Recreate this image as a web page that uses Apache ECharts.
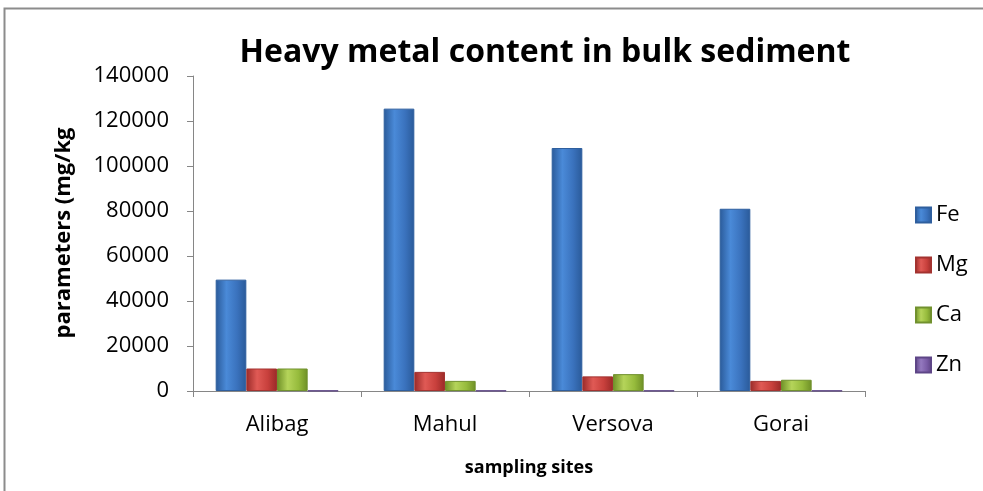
<!DOCTYPE html>
<html>
<head>
<meta charset="utf-8">
<script src="https://cdn.jsdelivr.net/npm/echarts@6/dist/echarts.min.js"></script>
<style>
  html, body { margin: 0; padding: 0; background: #fff; }
  #main { width: 983px; height: 491px; }
</style>
</head>
<body>
<div id="main"></div>
<script>
var sites = ['Alibag', 'Mahul', 'Versova', 'Gorai'];
var fe = [49500, 125500, 108000, 81000];
var mg = [10000, 8500, 6500, 4500];
var ca = [10000, 4500, 7500, 5000];
var zn = [150, 150, 150, 150];
var yTicks = [0, 20000, 40000, 60000, 80000, 100000, 120000, 140000];

var myChart = echarts.init(document.getElementById('main'));

// bar fill with a shaded look like the office 3D bars
function shade(light, mid, dark) {
  return new echarts.graphic.LinearGradient(0, 0, 1, 0, [
    { offset: 0, color: dark },
    { offset: 0.35, color: light },
    { offset: 0.7, color: mid },
    { offset: 1, color: dark }
  ]);
}

var fontName = 'Open Sans';

function barSeries(name, data, fill, border) {
  return {
    name: name,
    type: 'bar',
    data: data,
    barGap: 0,
    barCategoryGap: '27%',
    itemStyle: { color: fill, borderColor: border, borderWidth: 1 }
  };
}

var option = {
  animation: false,
  backgroundColor: '#fff',
  title: {
    text: 'Heavy metal content in bulk sediment',
    left: 540,
    textAlign: 'center',
    top: 32,
    textStyle: { fontFamily: fontName, fontSize: 32, fontWeight: 'bold', color: '#000' }
  },
  legend: {
    orient: 'vertical',
    left: 910,
    top: 199,
    itemWidth: 15,
    itemHeight: 15,
    itemGap: 28,
    icon: 'rect',
    textStyle: { fontFamily: fontName, fontSize: 22, color: '#000' },
    data: ['Fe', 'Mg', 'Ca', 'Zn']
  },
  grid: { left: 193, right: 118, top: 76, bottom: 100 },
  xAxis: {
    type: 'category',
    data: sites,
    name: 'sampling sites',
    nameLocation: 'middle',
    nameGap: 68,
    nameTextStyle: { fontFamily: fontName, fontSize: 18, fontWeight: 'bold', color: '#000' },
    axisLine: { lineStyle: { color: '#868686', width: 1 } },
    axisTick: { show: true, length: 6, lineStyle: { color: '#868686' } },
    axisLabel: { fontFamily: fontName, fontSize: 22, color: '#000', margin: 23 }
  },
  yAxis: {
    type: 'value',
    min: 0,
    max: 140000,
    interval: 20000,
    axisLine: { show: true, lineStyle: { color: '#868686', width: 1 } },
    axisTick: { show: true, length: 6, lineStyle: { color: '#868686' } },
    splitLine: { show: false },
    axisLabel: {
      fontFamily: fontName, fontSize: 22, color: '#000', margin: 24,
      formatter: function (v) { return yTicks.indexOf(v) >= 0 ? String(v) : ''; }
    }
  },
  graphic: [
    {
      type: 'rect',
      shape: { x: 4.5, y: 8.5, width: 1000, height: 600 },
      style: { fill: 'none', stroke: '#8c8c8c', lineWidth: 2 },
      silent: true
    },
    {
      type: 'text',
      x: 64,
      y: 233,
      rotation: Math.PI / 2,
      style: {
        text: 'parameters (mg/kg',
        fontFamily: fontName,
        fontSize: 22,
        fontWeight: 'bold',
        fill: '#000',
        align: 'center',
        verticalAlign: 'middle'
      }
    }
  ],
  series: [
    barSeries('Fe', fe, shade('#4a8ad8', '#3a72bd', '#2a5a99'), '#2f5f9e'),
    barSeries('Mg', mg, shade('#e05a55', '#c8403c', '#9a2a28'), '#a33330'),
    barSeries('Ca', ca, shade('#b5d45a', '#96bb3c', '#6e8f26'), '#71912e'),
    barSeries('Zn', zn, shade('#9479bf', '#7a5ca6', '#5b4282'), '#5e4687')
  ]
};

myChart.setOption(option);
</script>
</body>
</html>
